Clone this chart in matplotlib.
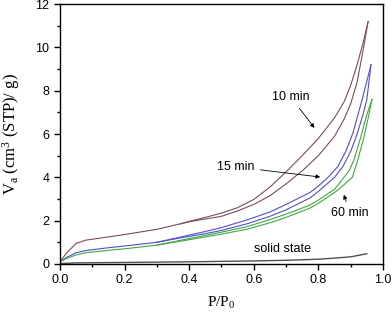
import numpy as np
import matplotlib.pyplot as plt
from matplotlib.ticker import MultipleLocator

plt.rcParams['mathtext.fontset'] = 'custom'
plt.rcParams['mathtext.rm'] = 'Liberation Serif'
plt.rcParams['mathtext.it'] = 'Liberation Serif'

# 10 min (brown)
x10_ads = [0, 0.02, 0.05, 0.08, 0.15, 0.2, 0.3, 0.372, 0.4, 0.5, 0.55, 0.6, 0.65, 0.7, 0.75,
           0.8, 0.85, 0.88, 0.9, 0.92, 0.94, 0.954]
y10_ads = [0.1, 0.5, 0.95, 1.1, 1.25, 1.36, 1.6, 1.85, 1.95, 2.2, 2.45, 2.75, 3.15, 3.7, 4.3,
           5.0, 5.9, 6.7, 7.4, 8.4, 10.0, 11.2]
x10_des = [0.372, 0.4, 0.45, 0.5, 0.55, 0.6, 0.65, 0.7, 0.75, 0.8, 0.85, 0.88, 0.9, 0.92, 0.94, 0.954]
y10_des = [1.85, 1.97, 2.15, 2.35, 2.6, 2.98, 3.55, 4.25, 5.0, 5.8, 6.75, 7.5, 8.25, 9.2, 10.3, 11.2]

# 15 min (blue)
x15_ads = [0, 0.02, 0.05, 0.08, 0.15, 0.2, 0.3, 0.372, 0.45, 0.5, 0.578, 0.65, 0.7, 0.774,
           0.8, 0.85, 0.876, 0.9, 0.92, 0.94, 0.95, 0.963]
y15_ads = [0.1, 0.3, 0.52, 0.62, 0.75, 0.83, 1.0, 1.2, 1.4, 1.55, 1.85, 2.2, 2.5, 3.05,
           3.35, 4.0, 4.5, 5.2, 6.0, 7.0, 7.6, 9.2]
x15_des = [0.3, 0.372, 0.45, 0.5, 0.578, 0.65, 0.7, 0.774, 0.8, 0.83, 0.86, 0.885, 0.907, 0.935, 0.963]
y15_des = [1.0, 1.24, 1.5, 1.68, 2.03, 2.4, 2.75, 3.3, 3.6, 4.0, 4.5, 5.2, 6.05, 7.57, 9.2]

# 60 min (green)
x60_ads = [0, 0.02, 0.05, 0.08, 0.15, 0.2, 0.3, 0.372, 0.45, 0.5, 0.578, 0.65, 0.7, 0.774,
           0.8, 0.85, 0.875, 0.905, 0.92, 0.94, 0.955, 0.966]
y60_ads = [0.1, 0.25, 0.42, 0.52, 0.63, 0.7, 0.87, 1.05, 1.25, 1.38, 1.6, 1.9, 2.15, 2.58,
           2.8, 3.3, 3.6, 4.0, 4.7, 5.8, 6.8, 7.6]
x60_des = [0.3, 0.372, 0.45, 0.5, 0.578, 0.65, 0.7, 0.774, 0.8, 0.85, 0.895, 0.91, 0.93, 0.95, 0.966]
y60_des = [0.87, 1.09, 1.32, 1.47, 1.72, 2.05, 2.3, 2.72, 2.95, 3.45, 4.3, 4.8, 5.8, 6.9, 7.6]

# solid state
x_solid = [0, 0.05, 0.2, 0.4, 0.6, 0.7, 0.8, 0.85, 0.9, 0.95]
y_solid = [0.02, 0.05, 0.07, 0.1, 0.14, 0.17, 0.22, 0.27, 0.33, 0.47]

BROWN = "#7b4d55"
BLUE = "#5050d0"
GREEN = "#40a840"

fig = plt.figure(figsize=(3.92, 3.15), dpi=100)
ax = fig.add_axes([0.153, 0.162, 0.824, 0.825])

ax.plot(x10_ads, y10_ads, color=BROWN, lw=0.8)
ax.plot(x10_des, y10_des, color=BROWN, lw=0.8)
ax.plot(x15_ads, y15_ads, color=BLUE, lw=0.8)
ax.plot(x15_des, y15_des, color=BLUE, lw=0.8)
ax.plot(x60_ads, y60_ads, color=GREEN, lw=0.8)
ax.plot(x60_des, y60_des, color=GREEN, lw=0.8)
ax.plot(x_solid, y_solid, color="#505050", lw=1.0)

ax.set_xlim(0, 1.0)
ax.set_ylim(0, 12)
ax.xaxis.set_major_locator(MultipleLocator(0.2))
ax.xaxis.set_minor_locator(MultipleLocator(0.1))
ax.yaxis.set_major_locator(MultipleLocator(2))
ax.yaxis.set_minor_locator(MultipleLocator(1))
ax.xaxis.set_major_formatter(plt.FormatStrFormatter('%.1f'))
ax.tick_params(which="major", direction="out", length=4, width=1, labelsize=9)
ax.tick_params(which="minor", direction="out", length=2.5, width=1)
for lab in ax.get_xticklabels() + ax.get_yticklabels():
    lab.set_family("Liberation Sans")
for s in ax.spines.values():
    s.set_linewidth(1.0)

ax.set_xlabel("P/P$_0$", fontsize=11, family="Liberation Serif", labelpad=6)
ax.set_ylabel("V$_a$ (cm$^3$ (STP)/ g)", fontsize=12, family="Liberation Serif", labelpad=10)

arrow = dict(arrowstyle="-|>", color="black", lw=0.6, mutation_scale=6)
ax.annotate("10 min", xy=(0.793, 6.18), xytext=(0.715, 7.7), ha="center", va="center",
            fontsize=9, family="Liberation Sans", arrowprops=arrow)
ax.annotate("15 min", xy=(0.814, 4.0), xytext=(0.545, 4.48), ha="center", va="center",
            fontsize=9, family="Liberation Sans", arrowprops=arrow)
ax.annotate("60 min", xy=(0.876, 3.32), xytext=(0.898, 2.35), ha="center", va="center",
            fontsize=9, family="Liberation Sans", arrowprops=arrow)
ax.text(0.69, 0.69, "solid state", ha="center", va="center", fontsize=9, family="Liberation Sans")

fig.savefig("out.png", dpi=100)
